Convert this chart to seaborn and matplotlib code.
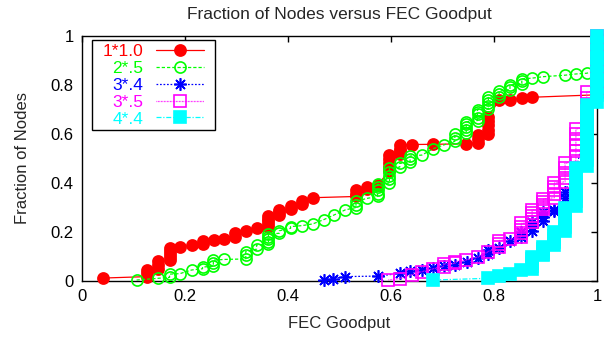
import matplotlib
matplotlib.use("Agg")
import matplotlib.pyplot as plt
from matplotlib.path import Path
import pandas as pd
import seaborn as sns

# CDF of FEC goodput per configuration: (goodput, fraction of nodes)
red_pts = [
    (0.041, 0.012),
    (0.127, 0.018), (0.127, 0.032), (0.127, 0.045),
    (0.148, 0.050), (0.148, 0.065), (0.148, 0.080),
    (0.170, 0.085), (0.170, 0.098), (0.170, 0.110), (0.170, 0.122), (0.170, 0.135),
    (0.190, 0.140), (0.213, 0.145), (0.234, 0.152), (0.234, 0.162),
    (0.256, 0.168), (0.276, 0.173), (0.297, 0.180), (0.297, 0.195),
    (0.318, 0.205), (0.339, 0.215),
    (0.362, 0.220), (0.362, 0.232), (0.362, 0.245), (0.362, 0.255), (0.362, 0.265),
    (0.383, 0.268), (0.383, 0.280), (0.383, 0.290),
    (0.405, 0.295), (0.405, 0.305), (0.427, 0.315), (0.427, 0.328),
    (0.448, 0.340),
    (0.532, 0.345), (0.532, 0.357), (0.532, 0.370),
    (0.553, 0.375), (0.553, 0.385), (0.574, 0.392),
    (0.597, 0.450), (0.597, 0.465), (0.597, 0.480), (0.597, 0.497), (0.597, 0.515),
    (0.617, 0.520), (0.617, 0.530), (0.617, 0.540), (0.617, 0.555),
    (0.640, 0.557), (0.682, 0.558), (0.746, 0.560),
    (0.768, 0.565), (0.768, 0.580), (0.768, 0.595),
    (0.789, 0.600), (0.789, 0.617), (0.789, 0.635), (0.789, 0.652), (0.789, 0.670),
    (0.810, 0.738), (0.831, 0.740), (0.854, 0.746), (0.874, 0.750),
    (1.000, 0.760), (1.000, 0.850), (1.000, 0.930), (1.000, 1.000),
]

green_pts = [
    (0.106, 0.004), (0.148, 0.011), (0.170, 0.015), (0.170, 0.028),
    (0.190, 0.030), (0.213, 0.045), (0.234, 0.050), (0.234, 0.057),
    (0.255, 0.060), (0.255, 0.072), (0.255, 0.085), (0.276, 0.088),
    (0.318, 0.090), (0.318, 0.105), (0.318, 0.120),
    (0.339, 0.130), (0.339, 0.147),
    (0.362, 0.150), (0.362, 0.160), (0.362, 0.170), (0.362, 0.180), (0.362, 0.190),
    (0.383, 0.195), (0.383, 0.205), (0.405, 0.215), (0.405, 0.222),
    (0.427, 0.226), (0.448, 0.233), (0.469, 0.250), (0.490, 0.270),
    (0.511, 0.290), (0.532, 0.300), (0.532, 0.312), (0.532, 0.325),
    (0.553, 0.337),
    (0.574, 0.345), (0.574, 0.357), (0.574, 0.370), (0.574, 0.383), (0.574, 0.395),
    (0.597, 0.400), (0.597, 0.415), (0.597, 0.430), (0.597, 0.445), (0.597, 0.460),
    (0.617, 0.465), (0.617, 0.480), (0.637, 0.485), (0.637, 0.497), (0.637, 0.510),
    (0.660, 0.514), (0.682, 0.540), (0.702, 0.555),
    (0.724, 0.570), (0.724, 0.585), (0.724, 0.600),
    (0.746, 0.605), (0.746, 0.617), (0.746, 0.630), (0.746, 0.640), (0.746, 0.650),
    (0.768, 0.655), (0.768, 0.667), (0.768, 0.680), (0.768, 0.690), (0.768, 0.700),
    (0.789, 0.702), (0.789, 0.713), (0.789, 0.725), (0.789, 0.737), (0.789, 0.750),
    (0.810, 0.752), (0.810, 0.763), (0.810, 0.775),
    (0.831, 0.780), (0.831, 0.790), (0.831, 0.800),
    (0.854, 0.805), (0.854, 0.815), (0.854, 0.825),
    (0.874, 0.828), (0.896, 0.834), (0.938, 0.840), (0.959, 0.845), (0.980, 0.848),
    (1.000, 0.860), (1.000, 0.930), (1.000, 1.000),
]

blue_pts = [
    (0.469, 0.004), (0.488, 0.010), (0.511, 0.018), (0.575, 0.020),
    (0.617, 0.031), (0.637, 0.040), (0.660, 0.046), (0.682, 0.052),
    (0.702, 0.060), (0.724, 0.067), (0.747, 0.079), (0.768, 0.093),
    (0.789, 0.110), (0.789, 0.125), (0.810, 0.133), (0.831, 0.165),
    (0.853, 0.180), (0.853, 0.200),
    (0.874, 0.205), (0.874, 0.220), (0.874, 0.240),
    (0.896, 0.245), (0.896, 0.260), (0.896, 0.280),
    (0.917, 0.285), (0.917, 0.290), (0.938, 0.340), (0.938, 0.365),
    (0.959, 0.450), (0.980, 0.650), (1.000, 0.750), (1.000, 1.000),
]

magenta_pts = [
    (0.595, 0.004), (0.617, 0.010), (0.640, 0.025), (0.660, 0.038),
    (0.682, 0.050), (0.702, 0.058), (0.702, 0.069), (0.724, 0.072),
    (0.724, 0.079), (0.746, 0.086), (0.768, 0.097), (0.789, 0.120),
    (0.810, 0.140), (0.810, 0.152), (0.810, 0.165), (0.831, 0.170),
    (0.853, 0.180), (0.853, 0.195), (0.853, 0.210), (0.853, 0.222), (0.853, 0.235),
    (0.874, 0.240), (0.874, 0.252), (0.874, 0.265), (0.874, 0.277), (0.874, 0.290),
    (0.896, 0.292), (0.896, 0.302), (0.896, 0.312), (0.896, 0.323), (0.896, 0.335),
    (0.917, 0.340), (0.917, 0.355), (0.917, 0.370), (0.917, 0.385), (0.917, 0.400),
    (0.938, 0.405), (0.938, 0.420), (0.938, 0.440), (0.938, 0.460), (0.938, 0.480),
    (0.959, 0.490), (0.959, 0.510), (0.959, 0.530), (0.959, 0.555),
    (0.959, 0.580), (0.959, 0.600), (0.959, 0.620),
    (0.980, 0.630), (0.980, 0.650), (0.980, 0.670), (0.980, 0.695),
    (0.980, 0.720), (0.980, 0.745), (0.980, 0.770),
    (1.000, 0.780), (1.000, 0.810), (1.000, 0.840), (1.000, 0.870),
    (1.000, 0.900), (1.000, 0.925), (1.000, 0.950), (1.000, 0.975), (1.000, 1.000),
]

cyan_pts = [
    (0.682, 0.004), (0.789, 0.011), (0.810, 0.020), (0.831, 0.030), (0.853, 0.045),
    (0.874, 0.050), (0.874, 0.062), (0.874, 0.075), (0.874, 0.088), (0.874, 0.100),
    (0.896, 0.105), (0.896, 0.112), (0.896, 0.120), (0.896, 0.130), (0.896, 0.140),
    (0.917, 0.145), (0.917, 0.158), (0.917, 0.170), (0.917, 0.185), (0.917, 0.200),
    (0.938, 0.205), (0.938, 0.222), (0.938, 0.240), (0.938, 0.255),
    (0.938, 0.270), (0.938, 0.285), (0.938, 0.300),
    (0.959, 0.305), (0.959, 0.325), (0.959, 0.345), (0.959, 0.365), (0.959, 0.385),
    (0.959, 0.405), (0.959, 0.425), (0.959, 0.445), (0.959, 0.460),
    (0.980, 0.470), (0.980, 0.495), (0.980, 0.520), (0.980, 0.545), (0.980, 0.570),
    (0.980, 0.595), (0.980, 0.620), (0.980, 0.645), (0.980, 0.670), (0.980, 0.695),
    (0.980, 0.720),
    (1.000, 0.730), (1.000, 0.760), (1.000, 0.790), (1.000, 0.820), (1.000, 0.850),
    (1.000, 0.880), (1.000, 0.910), (1.000, 0.940), (1.000, 0.970), (1.000, 1.000),
]

labels = ["1*1.0", "2*.5", "3*.4", "3*.5", "4*.4"]
tick_values = [0, 0.2, 0.4, 0.6, 0.8, 1]
tick_labels = ["0", "0.2", "0.4", "0.6", "0.8", "1"]

sns.set_style("white")
plt.rcParams["font.family"] = ["Liberation Sans", "DejaVu Sans"]

fig = plt.figure(figsize=(6.16, 3.37), dpi=100)
ax = fig.add_axes([82 / 616, 1 - 281 / 337, 515 / 616, 245 / 337])

# colour, marker, filled, linestyle, marker size
styles = [
    ("#ff0000", "o", True, "-", 8),
    ("#00ff00", "o", False, (0, (2.6, 1.6)), 8),
    ("#0000ff", (8, 2, 0), False, (0, (1.4, 1.4)), 9),
    ("#ff00ff", "s", False, (0, (0.6, 0.6)), 8),
    ("#00ffff", "s", True, (0, (4.0, 1.4, 1.0, 1.4)), 8),
]
all_pts = [red_pts, green_pts, blue_pts, magenta_pts, cyan_pts]

for pts, (color, marker, filled, ls, ms), label in zip(all_pts, styles, labels):
    df = pd.DataFrame(pts, columns=["goodput", "fraction"])
    sns.lineplot(data=df, x="goodput", y="fraction", ax=ax, estimator=None,
                 sort=False, color=color, linewidth=0.9, linestyle=ls,
                 marker=marker, markersize=ms,
                 markerfacecolor=color if filled else "none",
                 markeredgecolor=color, markeredgewidth=1.2,
                 label=label, clip_on=False, zorder=3)

ax.set_xlim(0, 1)
ax.set_ylim(0, 1)
ax.set_xticks(tick_values)
ax.set_xticklabels(tick_labels)
ax.set_yticks(tick_values)
ax.set_yticklabels(tick_labels)
ax.tick_params(direction="in", length=4, width=1, top=True, right=True,
               labelsize=12, colors="black", pad=6)
for sp in ax.spines.values():
    sp.set_visible(True)
    sp.set_color("black")
    sp.set_linewidth(1.0)
    sp.set_zorder(2)

ax.set_xlabel("FEC Goodput", fontsize=12, labelpad=8.5)
ax.set_ylabel("Fraction of Nodes", fontsize=12, labelpad=15)
ax.set_title("Fraction of Nodes versus FEC Goodput", fontsize=12.5, pad=12)


def wide_square(x0, y0, width, height, mutation_size):
    # square frame with extra room on the left and right only
    p = 0.42 * mutation_size
    verts = [(x0 - p, y0), (x0 + width + p, y0), (x0 + width + p, y0 + height),
             (x0 - p, y0 + height), (x0 - p, y0)]
    return Path(verts, closed=True)


leg = ax.legend(loc="upper left", bbox_to_anchor=(17 / 515, 1 - 4 / 245),
                borderaxespad=0, markerfirst=False, numpoints=1,
                handlelength=2.8, handletextpad=0.7, labelspacing=0.1,
                borderpad=0.22, fancybox=False, frameon=True, fontsize=12.5,
                labelcolor="linecolor", framealpha=1)
frame = leg.get_frame()
frame.set_boxstyle(wide_square)
frame.set_edgecolor("black")
frame.set_facecolor("white")
frame.set_linewidth(1.0)

fig.savefig("out.png", dpi=100)
